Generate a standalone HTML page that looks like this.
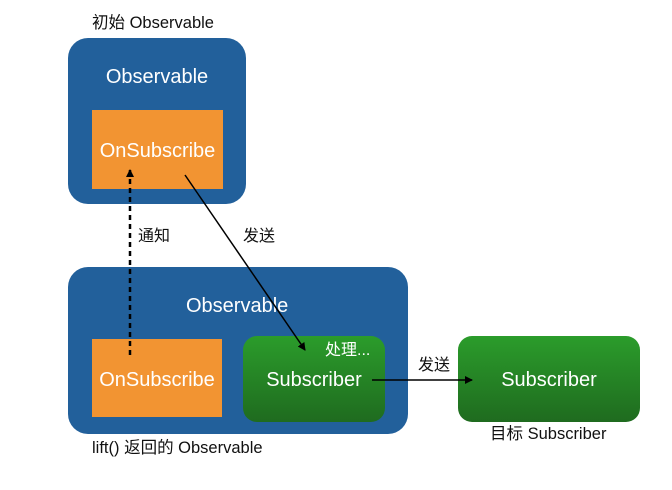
<!DOCTYPE html>
<html><head><meta charset="utf-8"><style>
body{margin:0;width:672px;height:490px;background:#fff;position:relative;overflow:hidden;font-family:"Liberation Sans","Noto Sans CJK SC",sans-serif;}
.a{position:absolute;box-sizing:border-box}
.blue{background:#22609b;border-radius:20px}
.or{background:#f29432}
.gr{background:linear-gradient(#2b9c2b,#1f6b1f);border-radius:14px}
.t{position:absolute;white-space:nowrap;line-height:1}
.w{color:#fff;font-size:20px}
.k{color:#111;font-size:16px}
</style></head><body>
<div class="t k" style="left:92px;top:15px;font-size:16.5px">初始 Observable</div>
<div class="a blue" style="left:68px;top:38px;width:178px;height:166px"></div>
<div class="t w" style="left:68px;width:178px;text-align:center;top:67px">Observable</div>
<div class="a or" style="left:92px;top:110px;width:131px;height:79px"></div>
<div class="t w" style="left:92px;width:131px;text-align:center;top:141px">OnSubscribe</div>

<div class="a blue" style="left:68px;top:267px;width:340px;height:167px"></div>
<div class="t w" style="left:186px;top:296px">Observable</div>
<div class="a or" style="left:92px;top:339px;width:130px;height:78px"></div>
<div class="t w" style="left:92px;width:130px;text-align:center;top:370px">OnSubscribe</div>
<div class="a gr" style="left:243px;top:336px;width:142px;height:86px"></div>
<div class="t w" style="left:325px;top:343px;font-size:16px">处理...</div>
<div class="t w" style="left:243px;width:142px;text-align:center;top:370px">Subscriber</div>
<div class="a gr" style="left:458px;top:336px;width:182px;height:86px"></div>
<div class="t w" style="left:458px;width:182px;text-align:center;top:370px">Subscriber</div>

<div class="t k" style="left:138px;top:229px">通知</div>
<div class="t k" style="left:243px;top:229px">发送</div>
<div class="t k" style="left:418px;top:358px">发送</div>
<div class="t k" style="left:490px;top:426px;font-size:16.5px">目标 Subscriber</div>
<div class="t k" style="left:92px;top:440px;font-size:16.5px">lift() 返回的 Observable</div>

<svg class="a" style="left:0;top:0" width="672" height="490">
<defs><marker id="m" markerWidth="8" markerHeight="8" refX="7" refY="4" orient="auto" markerUnits="userSpaceOnUse"><path d="M0,0L8,4L0,8z" fill="#000"/></marker></defs>
<line x1="130" y1="355" x2="130" y2="170" stroke="#000" stroke-width="2.5" stroke-dasharray="5,4" marker-end="url(#m)"/>
<line x1="185" y1="175" x2="305" y2="350" stroke="#000" stroke-width="1.5" marker-end="url(#m)"/>
<line x1="372" y1="380" x2="472" y2="380" stroke="#000" stroke-width="1.5" marker-end="url(#m)"/>
</svg>
</body></html>
